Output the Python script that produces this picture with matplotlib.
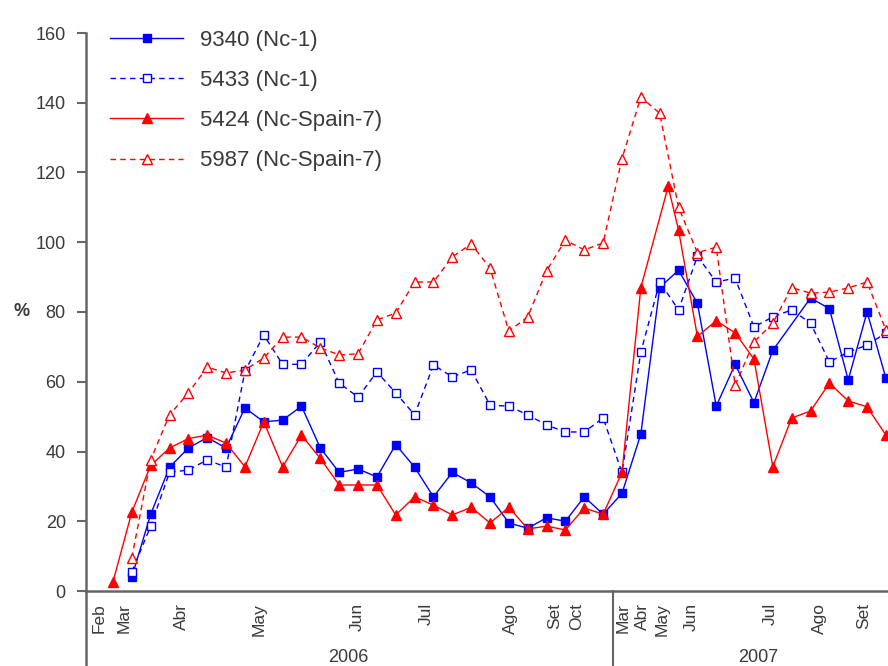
import matplotlib.pyplot as plt
import matplotlib.transforms as mtransforms

plt.rcParams['font.family'] = ['Liberation Sans', 'DejaVu Sans']

# sampling index along the x axis (one step per sampling date)
x_9340 = [1, 2, 3, 4, 5, 6, 7, 8, 9, 10, 11, 12, 13, 14, 15, 16, 17, 18, 19, 20, 21, 22, 23, 24, 25, 26,
          27, 28, 29, 30, 31, 32, 33, 34, 35, 37, 38, 39, 40, 41]
y_9340 = [4, 22, 35.5, 41, 44, 41, 52.5, 48.5, 49, 53, 41, 34, 35, 32.7, 42, 35.5, 27, 34, 31, 27, 19.5, 18, 21, 20, 27, 22,
          28, 45, 87, 92, 82.5, 53, 65, 54, 69, 84, 81, 60.5, 80, 61]

x_5433 = [1, 2, 3, 4, 5, 6, 7, 8, 9, 10, 11, 12, 13, 14, 15, 16, 17, 18, 19, 20, 21, 22, 23, 24, 25, 26,
          27, 28, 29, 30, 31, 32, 33, 34, 35, 36, 37, 38, 39, 40, 41]
y_5433 = [5.5, 18.6, 34, 34.7, 37.6, 35.5, 63, 73.4, 65, 65, 71.4, 59.6, 55.6, 62.8, 56.8, 50.5, 64.8, 61.4, 63.4,
          53.3, 53, 50.5, 47.6, 45.6, 45.6, 49.6,
          34, 68.5, 88.6, 80.6, 96, 88.6, 89.7, 75.7, 78.6, 80.6, 76.8, 65.7, 68.5, 70.5, 74]

x_5424 = [0, 1, 2, 3, 4, 5, 6, 7, 8, 9, 10, 11, 12, 13, 14, 15, 16, 17, 18, 19, 20, 21, 22, 23, 24, 25, 26,
          27, 28, 29.45, 30, 31, 32, 33, 34, 35, 36, 37, 38, 39, 40, 41]
y_5424 = [2.6, 22.6, 36, 41, 43.7, 44.7, 42.4, 35.6, 48.5, 35.6, 44.7, 38, 30.4, 30.4, 30.4, 21.8, 27, 24.6, 21.8,
          24, 19.5, 24, 17.8, 18.6, 17.5, 23.8, 22,
          34, 87, 116, 103.5, 73, 77.5, 74, 66.5, 35.6, 49.6, 51.6, 59.6, 54.5, 52.8, 44.7]

x_5987 = [1, 2, 3, 4, 5, 6, 7, 8, 9, 10, 11, 12, 13, 14, 15, 16, 17, 18, 19, 20, 21, 22, 23, 24, 25, 26,
          27, 28, 29, 30, 31, 32, 33, 34, 35, 36, 37, 38, 39, 40, 41]
y_5987 = [9.5, 37.6, 50.5, 56.8, 64.2, 62.5, 63.4, 66.8, 72.8, 72.8, 69.7, 67.7, 68, 77.7, 79.7, 88.6, 88.6, 95.8,
          99.5, 92.6, 74.5, 78.6, 91.8, 100.6, 97.8, 99.8,
          124, 141.6, 137, 110, 97, 98.6, 59, 71.4, 76.8, 87, 85.4, 85.7, 86.9, 88.6, 74.8]

# month labels and where they sit on the sampling axis
month_pos = [-0.74, 0.58, 3.61, 7.75, 12.94, 16.6, 21.06, 23.45, 24.6,
             27.06, 28.06, 29.12, 30.7, 34.85, 37.5, 39.8]
month_lab = ['Feb', 'Mar', 'Abr', 'May', 'Jun', 'Jul', 'Ago', 'Set', 'Oct',
             'Mar', 'Abr', 'May', 'Jun', 'Jul', 'Ago', 'Set']
years = ['2006', '2007']
year_pos = [12.47, 34.2]
year_break = 26.5

blue = '#0000FF'
red = '#FF0000'
grey = '#666666'
txt = '#3a3a3a'

fig = plt.figure(figsize=(8.88, 6.66), dpi=100)
ax = fig.add_axes([86 / 888, 75 / 666, 802 / 888, 558 / 666])

ax.plot(x_9340, y_9340, '-', color=blue, lw=1.0, marker='s', ms=6, mfc=blue, mec=blue,
        label='9340 (Nc-1)')
ax.plot(x_5433, y_5433, '--', color=blue, lw=1.0, dashes=(4, 3), marker='s', ms=6, mfc='white',
        mec=blue, mew=1.0, label='5433 (Nc-1)')
ax.plot(x_5424, y_5424, '-', color=red, lw=1.0, marker='^', ms=7, mfc=red, mec=red,
        label='5424 (Nc-Spain-7)')
ax.plot(x_5987, y_5987, '--', color=red, lw=1.0, dashes=(4, 3), marker='^', ms=7, mfc='white',
        mec=red, mew=1.0, label='5987 (Nc-Spain-7)')

ax.set_xlim(-1.43, 41.11)
ax.set_ylim(0, 160)
ax.set_yticks(range(0, 161, 20))

for s in ['top', 'right']:
    ax.spines[s].set_visible(False)
for s in ['left', 'bottom']:
    ax.spines[s].set_color(grey)
    ax.spines[s].set_linewidth(1.8)

ax.tick_params(axis='y', direction='out', length=6.5, width=1.5, color=grey, pad=8,
               labelsize=13, labelcolor=txt)
ax.set_xticks(month_pos, month_lab, rotation=90, va='top', ha='center')
ax.tick_params(axis='x', length=0, pad=8.5, labelsize=12.5, labelcolor=txt)

# category group lines below the axis
trans = mtransforms.blended_transform_factory(ax.transData, ax.transAxes)
ax.plot([-1.43, -1.43], [0, -0.14], transform=trans, color=grey, lw=1.8, clip_on=False)
ax.plot([year_break, year_break], [0, -0.14], transform=trans, color=grey, lw=1.5, clip_on=False)
for lab, pos in zip(years, year_pos):
    ax.text(pos, -0.12, lab, transform=trans, ha='center', va='center', fontsize=13, color=txt)

fig.text(22 / 888, (666 - 312) / 666, '%', ha='center', va='center', fontsize=13,
         fontweight='bold', color=txt)

ax.legend(loc='upper left', bbox_to_anchor=(110 / 888, (666 - 30) / 666),
          bbox_transform=fig.transFigure, frameon=False, fontsize=16, handlelength=3.3,
          handletextpad=0.75, labelspacing=0.86, borderpad=0, borderaxespad=0,
          labelcolor=txt)

fig.savefig('out.png', dpi=100)
